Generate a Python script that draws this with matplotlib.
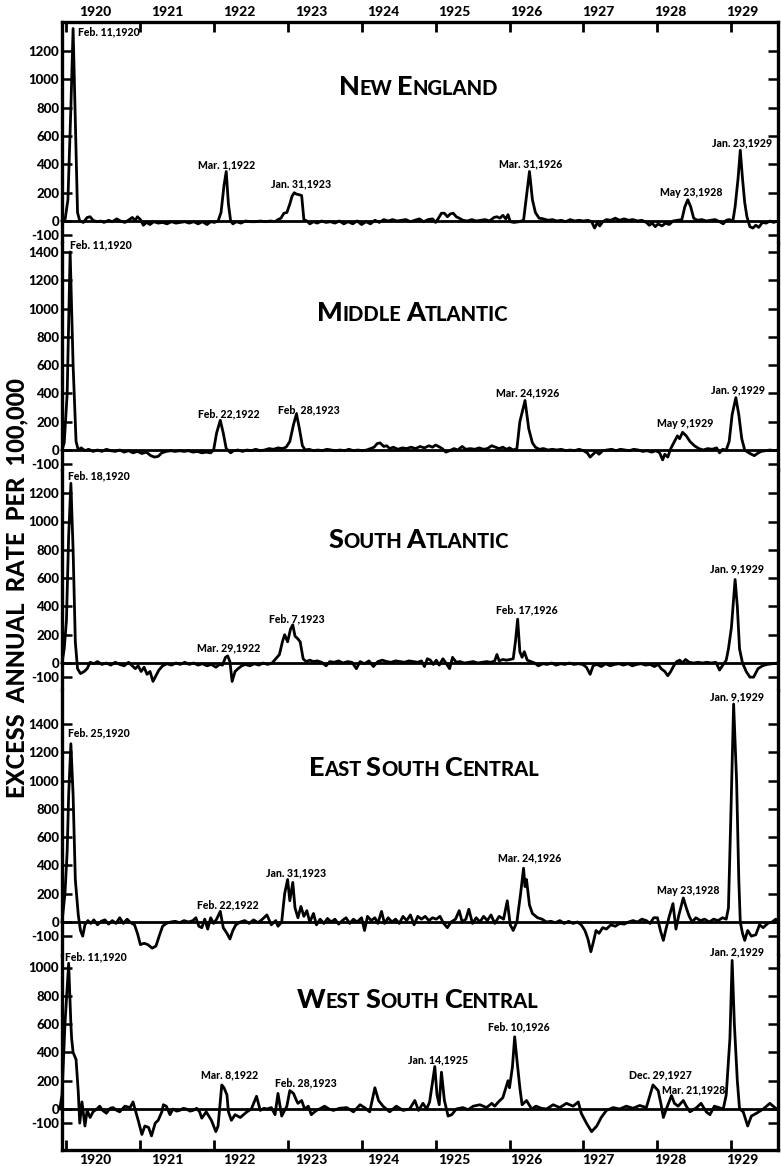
import matplotlib
matplotlib.use('Agg')
import matplotlib.pyplot as plt
import numpy as np
from matplotlib.offsetbox import TextArea, HPacker, AnnotationBbox

FONT = ['Lato', 'DejaVu Sans']
HEAVY = 'black'
plt.rcParams['font.family'] = FONT

# excess annual death rate per 100,000 as (year, value)
new_england = [
    (1919.95, 0), (1919.99, 5), (1920.03, 150), (1920.07, 800), (1920.10, 1360), (1920.13, 700),
    (1920.16, 60), (1920.19, 0), (1920.24, -10), (1920.29, 25), (1920.33, 30), (1920.37, 5),
    (1920.42, -5), (1920.47, 0), (1920.52, -10), (1920.58, 5), (1920.63, -5), (1920.69, 15),
    (1920.74, 0), (1920.80, -10), (1920.86, 10), (1920.90, 25), (1920.94, 5), (1920.97, 30),
    (1921.01, 10), (1921.05, -30), (1921.09, -10), (1921.14, -25), (1921.19, -5), (1921.25, -15),
    (1921.31, -10), (1921.37, -20), (1921.43, -5), (1921.49, -15), (1921.55, -10), (1921.61, -5),
    (1921.67, -15), (1921.73, -5), (1921.79, -20), (1921.85, -5), (1921.91, -25), (1921.96, -5),
    (1922.01, -10), (1922.06, 0), (1922.10, 60), (1922.14, 250), (1922.17, 350), (1922.20, 120),
    (1922.23, 0), (1922.26, -20), (1922.31, -5), (1922.37, -15), (1922.43, 0), (1922.50, -5),
    (1922.57, -5), (1922.63, 0), (1922.70, -5), (1922.77, 0), (1922.83, -5), (1922.87, 10),
    (1922.91, 20), (1922.95, 55), (1922.99, 60), (1923.03, 120), (1923.06, 175), (1923.09, 200),
    (1923.12, 190), (1923.16, 185), (1923.19, 180), (1923.22, 10), (1923.26, 0), (1923.30, -20),
    (1923.35, -5), (1923.40, -15), (1923.46, 0), (1923.52, -10), (1923.58, -5), (1923.64, -15),
    (1923.70, 0), (1923.76, -20), (1923.82, -5), (1923.88, -20), (1923.94, 0), (1924.00, -25),
    (1924.06, -5), (1924.12, -20), (1924.18, 5), (1924.24, -10), (1924.30, 10), (1924.36, 0),
    (1924.42, 10), (1924.48, 0), (1924.54, 5), (1924.60, 10), (1924.66, -5), (1924.72, 5),
    (1924.78, 15), (1924.84, -5), (1924.90, 10), (1924.96, 15), (1925.00, -10), (1925.04, 20),
    (1925.08, 55), (1925.12, 55), (1925.16, 30), (1925.20, 50), (1925.24, 55), (1925.28, 30),
    (1925.32, 20), (1925.37, 5), (1925.43, 0), (1925.49, 10), (1925.55, 0), (1925.61, 5),
    (1925.67, 10), (1925.73, 0), (1925.79, 25), (1925.83, 30), (1925.87, 20), (1925.91, 40),
    (1925.95, 15), (1925.98, 45), (1926.01, -5), (1926.06, -10), (1926.13, -5), (1926.19, 5),
    (1926.23, 180), (1926.27, 350), (1926.31, 150), (1926.35, 60), (1926.40, 20), (1926.46, 15),
    (1926.52, 5), (1926.58, 10), (1926.64, 0), (1926.70, 5), (1926.76, -5), (1926.82, 10),
    (1926.88, 0), (1926.94, 5), (1927.00, 0), (1927.06, 5), (1927.11, -5), (1927.15, -50),
    (1927.19, -10), (1927.22, -35), (1927.26, -5), (1927.31, 10), (1927.37, 5), (1927.43, 20),
    (1927.49, 5), (1927.55, 15), (1927.61, 5), (1927.67, 10), (1927.73, 0), (1927.79, 5),
    (1927.85, -10), (1927.89, -30), (1927.93, -15), (1927.97, -40), (1928.01, -20), (1928.06, -35),
    (1928.11, -15), (1928.16, -25), (1928.21, 0), (1928.27, 5), (1928.33, 10), (1928.37, 100),
    (1928.41, 150), (1928.45, 100), (1928.49, 20), (1928.54, 5), (1928.60, 10), (1928.66, 0),
    (1928.72, 5), (1928.78, 10), (1928.84, -5), (1928.89, -20), (1928.93, 5), (1928.97, 10),
    (1929.02, 0), (1929.05, 100), (1929.09, 300), (1929.12, 500), (1929.15, 300), (1929.18, 130),
    (1929.21, 30), (1929.25, -40), (1929.29, -50), (1929.33, -30), (1929.37, -45), (1929.42, -10),
    (1929.47, -15), (1929.52, 0), (1929.57, -10), (1929.63, 0),
]

middle_atlantic = [
    (1919.95, 0), (1919.98, 50), (1920.02, 400), (1920.06, 1400), (1920.10, 600), (1920.14, 60),
    (1920.17, 0), (1920.21, 15), (1920.26, -5), (1920.31, 5), (1920.37, -10), (1920.43, 0),
    (1920.49, -10), (1920.55, 5), (1920.61, -5), (1920.67, -10), (1920.73, 0), (1920.79, -15),
    (1920.85, -5), (1920.91, -20), (1920.97, -10), (1921.03, -25), (1921.09, -15), (1921.15, -40),
    (1921.20, -50), (1921.25, -45), (1921.30, -20), (1921.36, -10), (1921.42, -5), (1921.48, -10),
    (1921.54, -5), (1921.60, -10), (1921.66, -5), (1921.72, -15), (1921.78, -10), (1921.84, -20),
    (1921.90, -15), (1921.96, -20), (1922.00, 0), (1922.04, 120), (1922.09, 210), (1922.13, 120),
    (1922.17, 10), (1922.20, -5), (1922.23, -20), (1922.27, -5), (1922.33, 0), (1922.39, -10),
    (1922.45, 0), (1922.51, -5), (1922.57, 5), (1922.63, -5), (1922.69, 0), (1922.75, 10),
    (1922.81, 5), (1922.87, 15), (1922.93, 10), (1922.98, 20), (1923.03, 60), (1923.08, 180),
    (1923.12, 255), (1923.16, 150), (1923.20, 30), (1923.24, 0), (1923.29, 5), (1923.35, -5),
    (1923.41, 0), (1923.47, -5), (1923.53, 5), (1923.59, 0), (1923.65, -5), (1923.71, 0),
    (1923.77, -5), (1923.83, 5), (1923.89, -5), (1923.95, 0), (1924.01, -5), (1924.07, 0),
    (1924.12, 10), (1924.17, 20), (1924.21, 45), (1924.25, 50), (1924.30, 25), (1924.34, 30),
    (1924.38, 10), (1924.43, 20), (1924.49, 5), (1924.55, 15), (1924.61, 10), (1924.67, 20),
    (1924.73, 10), (1924.79, 25), (1924.85, 15), (1924.91, 30), (1924.96, 20), (1925.00, 35),
    (1925.04, 25), (1925.09, 10), (1925.14, -15), (1925.19, -5), (1925.25, 10), (1925.30, 0),
    (1925.36, 25), (1925.41, 5), (1925.47, 10), (1925.53, 5), (1925.59, 15), (1925.65, 5),
    (1925.70, 10), (1925.76, 30), (1925.81, 20), (1925.86, 10), (1925.91, 20), (1925.96, 5),
    (1926.00, 15), (1926.05, 0), (1926.10, 10), (1926.14, 200), (1926.21, 350), (1926.26, 150),
    (1926.31, 50), (1926.35, 20), (1926.40, 5), (1926.46, 10), (1926.52, 0), (1926.58, 5),
    (1926.64, 0), (1926.70, 5), (1926.76, -5), (1926.82, 0), (1926.88, -5), (1926.94, 5),
    (1927.00, -5), (1927.05, -20), (1927.09, -50), (1927.13, -30), (1927.17, -10), (1927.21, -30),
    (1927.26, -5), (1927.32, 0), (1927.38, 5), (1927.44, -5), (1927.50, 5), (1927.56, 0),
    (1927.62, -5), (1927.68, 5), (1927.74, 0), (1927.80, -10), (1927.86, -5), (1927.92, -15),
    (1927.98, -5), (1928.03, -20), (1928.07, -70), (1928.10, -30), (1928.14, -50), (1928.18, 10),
    (1928.23, 60), (1928.27, 100), (1928.30, 80), (1928.34, 125), (1928.39, 100), (1928.44, 60),
    (1928.50, 30), (1928.56, 10), (1928.62, 0), (1928.68, 10), (1928.74, 5), (1928.80, 15),
    (1928.84, -20), (1928.88, 5), (1928.93, 0), (1928.97, 60), (1929.01, 250), (1929.06, 370),
    (1929.10, 250), (1929.14, 80), (1929.18, 0), (1929.22, -15), (1929.27, -30), (1929.31, -40),
    (1929.35, -25), (1929.40, -10), (1929.46, -5), (1929.52, 0), (1929.58, -5), (1929.63, 0),
]

south_atlantic = [
    (1919.95, 0), (1919.98, 100), (1920.01, 300), (1920.04, 900), (1920.07, 1270), (1920.10, 800),
    (1920.13, 150), (1920.16, -40), (1920.20, -75), (1920.25, -60), (1920.29, -40), (1920.33, 5),
    (1920.38, -5), (1920.43, 10), (1920.49, -10), (1920.55, 0), (1920.61, -15), (1920.67, 5),
    (1920.73, -10), (1920.79, -20), (1920.85, 5), (1920.90, -20), (1920.94, -40), (1920.98, -20),
    (1921.02, -60), (1921.06, -30), (1921.10, -80), (1921.14, -60), (1921.18, -130), (1921.22, -90),
    (1921.26, -50), (1921.31, -20), (1921.37, -5), (1921.43, -15), (1921.49, 0), (1921.55, -10),
    (1921.61, 5), (1921.67, -10), (1921.73, 0), (1921.79, -15), (1921.85, -5), (1921.91, -20),
    (1921.97, -10), (1922.03, -30), (1922.08, -10), (1922.12, -15), (1922.16, 40), (1922.19, 50),
    (1922.22, 10), (1922.25, -130), (1922.29, -60), (1922.33, -40), (1922.38, -20), (1922.43, -10),
    (1922.49, -20), (1922.55, -5), (1922.61, -15), (1922.67, 0), (1922.73, -10), (1922.79, 0),
    (1922.84, 30), (1922.89, 60), (1922.93, 150), (1922.96, 200), (1923.00, 150), (1923.04, 240),
    (1923.07, 270), (1923.10, 190), (1923.14, 170), (1923.17, 150), (1923.21, 30), (1923.25, 10),
    (1923.30, 20), (1923.35, 10), (1923.40, 15), (1923.46, 5), (1923.52, -20), (1923.57, 10),
    (1923.63, 5), (1923.69, 15), (1923.75, 0), (1923.81, 10), (1923.87, 5), (1923.93, -40),
    (1923.98, 10), (1924.04, -5), (1924.10, 15), (1924.16, -25), (1924.22, 10), (1924.28, 20),
    (1924.34, 10), (1924.40, 5), (1924.46, 15), (1924.52, 10), (1924.58, 5), (1924.64, 15),
    (1924.70, 10), (1924.76, 5), (1924.81, 15), (1924.85, -25), (1924.89, 30), (1924.93, 20),
    (1924.97, -10), (1925.01, 20), (1925.05, -15), (1925.10, 30), (1925.14, 0), (1925.19, -40),
    (1925.23, 40), (1925.28, 5), (1925.33, 10), (1925.39, 0), (1925.45, 5), (1925.51, 10),
    (1925.57, 0), (1925.63, 5), (1925.69, 10), (1925.75, 5), (1925.80, 15), (1925.83, 60),
    (1925.86, 15), (1925.91, 25), (1925.96, 20), (1926.01, 25), (1926.05, 30), (1926.08, 150),
    (1926.11, 310), (1926.14, 80), (1926.17, 40), (1926.20, 80), (1926.24, 20), (1926.29, 10),
    (1926.34, 0), (1926.39, -20), (1926.45, -5), (1926.51, -10), (1926.57, 0), (1926.63, -15),
    (1926.69, -5), (1926.75, -10), (1926.81, 0), (1926.87, -10), (1926.93, -5), (1926.99, -10),
    (1927.04, -30), (1927.09, -80), (1927.13, -20), (1927.18, -10), (1927.24, -25), (1927.30, -5),
    (1927.36, -20), (1927.42, -10), (1927.48, -5), (1927.54, -15), (1927.60, -5), (1927.66, -20),
    (1927.72, -10), (1927.78, -5), (1927.84, -15), (1927.90, -10), (1927.96, -25), (1928.01, -10),
    (1928.05, -40), (1928.10, -60), (1928.14, -90), (1928.18, -60), (1928.22, -20), (1928.26, 10),
    (1928.30, 20), (1928.34, 0), (1928.38, 25), (1928.43, 5), (1928.49, 0), (1928.55, 5),
    (1928.61, 0), (1928.67, 5), (1928.73, 0), (1928.79, 5), (1928.84, -50), (1928.89, -10),
    (1928.93, 20), (1928.96, 100), (1929.00, 250), (1929.05, 590), (1929.08, 400), (1929.11, 100),
    (1929.15, 0), (1929.20, -60), (1929.25, -100), (1929.30, -100), (1929.36, -40), (1929.42, -20),
    (1929.48, -10), (1929.55, -5), (1929.63, 0),
]

east_south_central = [
    (1919.95, 0), (1919.99, 200), (1920.02, 500), (1920.04, 900), (1920.07, 1260), (1920.10, 900),
    (1920.13, 300), (1920.17, 50), (1920.20, -60), (1920.23, -100), (1920.26, -20), (1920.30, 10),
    (1920.34, -10), (1920.38, 15), (1920.43, -20), (1920.48, 5), (1920.53, 15), (1920.58, -15),
    (1920.63, 10), (1920.68, -10), (1920.73, 30), (1920.78, -10), (1920.83, 20), (1920.88, -5),
    (1920.93, -20), (1920.97, -80), (1921.01, -160), (1921.06, -150), (1921.11, -160), (1921.17, -185),
    (1921.22, -170), (1921.27, -90), (1921.31, -30), (1921.36, -10), (1921.42, 0), (1921.48, 5),
    (1921.54, -5), (1921.60, 10), (1921.66, 0), (1921.72, 10), (1921.76, 30), (1921.80, -30),
    (1921.84, -40), (1921.88, 20), (1921.92, -50), (1921.96, 30), (1922.00, -10), (1922.04, 20),
    (1922.09, 75), (1922.13, -40), (1922.18, -80), (1922.22, -120), (1922.26, -60), (1922.30, -20),
    (1922.36, 0), (1922.42, 10), (1922.48, -10), (1922.54, 15), (1922.60, -5), (1922.66, 20),
    (1922.72, 50), (1922.78, -20), (1922.84, 10), (1922.87, -30), (1922.92, 0), (1922.96, 200),
    (1923.00, 300), (1923.03, 150), (1923.07, 280), (1923.10, 100), (1923.14, 30), (1923.18, 110),
    (1923.22, 40), (1923.26, 80), (1923.30, 0), (1923.35, 60), (1923.39, -20), (1923.44, 20),
    (1923.49, -10), (1923.54, 25), (1923.59, 0), (1923.64, 20), (1923.69, -15), (1923.74, 10),
    (1923.79, 30), (1923.84, -10), (1923.89, 20), (1923.94, 0), (1924.00, 30), (1924.04, -60),
    (1924.08, 40), (1924.13, 10), (1924.18, 30), (1924.22, -10), (1924.27, 75), (1924.31, -10),
    (1924.36, 30), (1924.41, 0), (1924.46, 20), (1924.51, -10), (1924.56, 40), (1924.61, 10),
    (1924.66, 50), (1924.71, -20), (1924.76, 40), (1924.81, 20), (1924.86, 40), (1924.91, 10),
    (1924.96, 30), (1925.01, 20), (1925.06, 40), (1925.11, -10), (1925.16, -40), (1925.21, 0),
    (1925.27, 20), (1925.32, 80), (1925.36, 0), (1925.41, 20), (1925.45, 90), (1925.50, -10),
    (1925.55, 30), (1925.60, 0), (1925.65, 40), (1925.70, 10), (1925.75, 50), (1925.80, -10),
    (1925.86, 40), (1925.92, 20), (1925.97, 150), (1926.01, -20), (1926.05, -60), (1926.10, 0),
    (1926.15, 200), (1926.19, 380), (1926.21, 250), (1926.23, 300), (1926.27, 120), (1926.31, 60),
    (1926.38, 30), (1926.44, 20), (1926.50, 0), (1926.56, 5), (1926.62, -5), (1926.68, 10),
    (1926.74, -10), (1926.80, 5), (1926.86, -10), (1926.92, 0), (1926.97, -20), (1927.02, -60),
    (1927.06, -120), (1927.10, -210), (1927.13, -150), (1927.17, -60), (1927.21, -80), (1927.26, -40),
    (1927.31, -50), (1927.37, -20), (1927.43, -30), (1927.49, -10), (1927.55, -15), (1927.61, 0),
    (1927.67, 10), (1927.73, 0), (1927.79, 20), (1927.85, 10), (1927.90, -10), (1927.95, 30),
    (1928.00, 30), (1928.04, -60), (1928.08, -130), (1928.12, -40), (1928.16, 40), (1928.21, 130),
    (1928.25, -50), (1928.29, 50), (1928.35, 170), (1928.39, 100), (1928.43, 40), (1928.47, 0),
    (1928.52, 30), (1928.58, 10), (1928.64, 20), (1928.70, 0), (1928.76, 20), (1928.82, 10),
    (1928.88, 30), (1928.93, 20), (1928.96, 100), (1928.99, 700), (1929.03, 1540), (1929.07, 1000),
    (1929.10, 300), (1929.12, 0), (1929.15, -80), (1929.18, -130), (1929.22, -60), (1929.27, -100),
    (1929.33, -90), (1929.38, -20), (1929.43, -40), (1929.49, -10), (1929.55, 0), (1929.60, 20),
    (1929.63, 10),
]

west_south_central = [
    (1919.92, 0), (1919.95, 100), (1919.99, 600), (1920.04, 1030), (1920.07, 600), (1920.08, 500),
    (1920.10, 400), (1920.14, 350), (1920.17, 120), (1920.19, -100), (1920.22, 50), (1920.26, -120),
    (1920.29, -10), (1920.33, -60), (1920.37, -20), (1920.42, 0), (1920.46, 20), (1920.50, -10),
    (1920.55, -30), (1920.60, 5), (1920.64, 10), (1920.69, -10), (1920.73, -20), (1920.80, 20),
    (1920.87, 10), (1920.91, 50), (1920.98, -80), (1921.03, -180), (1921.07, -120), (1921.12, -130),
    (1921.16, -190), (1921.21, -100), (1921.25, -80), (1921.30, -20), (1921.32, 30), (1921.36, 20),
    (1921.41, -40), (1921.45, 0), (1921.50, -15), (1921.54, -10), (1921.59, 5), (1921.63, 0),
    (1921.68, -15), (1921.72, -10), (1921.77, 5), (1921.81, -20), (1921.84, -65), (1921.90, -20),
    (1921.97, -80), (1922.03, -160), (1922.06, -120), (1922.11, 170), (1922.14, 150), (1922.18, 100),
    (1922.20, -20), (1922.24, -80), (1922.29, -40), (1922.36, -60), (1922.45, -20), (1922.51, 0),
    (1922.58, 90), (1922.63, -10), (1922.68, 5), (1922.72, 0), (1922.78, 10), (1922.83, -40),
    (1922.87, 110), (1922.92, -50), (1922.99, 20), (1923.03, 130), (1923.08, 110), (1923.12, 60),
    (1923.14, 40), (1923.19, 60), (1923.23, 0), (1923.28, 20), (1923.32, -40), (1923.39, -10),
    (1923.45, 5), (1923.50, 20), (1923.56, 0), (1923.62, -10), (1923.70, 5), (1923.80, 10),
    (1923.89, -20), (1923.98, 30), (1924.04, 10), (1924.11, -20), (1924.18, 150), (1924.23, 60),
    (1924.29, 20), (1924.38, -20), (1924.47, 20), (1924.56, -10), (1924.65, 0), (1924.72, 60),
    (1924.77, -10), (1924.83, 40), (1924.88, 0), (1924.92, 50), (1924.99, 300), (1925.02, 100),
    (1925.05, 30), (1925.08, 260), (1925.12, 60), (1925.17, -50), (1925.22, -40), (1925.28, 0),
    (1925.37, 10), (1925.44, -5), (1925.51, 20), (1925.60, 30), (1925.69, 10), (1925.76, 40),
    (1925.80, 20), (1925.85, 50), (1925.91, 80), (1925.98, 200), (1926.00, 150), (1926.04, 300),
    (1926.07, 510), (1926.10, 350), (1926.14, 150), (1926.17, 30), (1926.23, 60), (1926.30, 0),
    (1926.36, 20), (1926.43, 5), (1926.50, 0), (1926.59, 30), (1926.68, 10), (1926.77, 40),
    (1926.86, 20), (1926.93, 50), (1926.97, -30), (1927.04, -100), (1927.11, -160), (1927.18, -120),
    (1927.24, -60), (1927.31, -10), (1927.40, 10), (1927.49, 0), (1927.58, 20), (1927.67, 5),
    (1927.76, 25), (1927.85, 10), (1927.94, 170), (1928.01, 130), (1928.05, 30), (1928.08, -60),
    (1928.12, 0), (1928.19, 95), (1928.23, 40), (1928.28, 20), (1928.35, 60), (1928.39, 20),
    (1928.44, -20), (1928.53, 10), (1928.59, 40), (1928.66, -20), (1928.71, -40), (1928.77, 20),
    (1928.89, 0), (1928.93, 100), (1928.98, 500), (1929.01, 1050), (1929.04, 600), (1929.08, 200),
    (1929.11, 0), (1929.16, -20), (1929.22, -120), (1929.27, -50), (1929.34, -30), (1929.43, 0),
    (1929.52, 40), (1929.61, 0),
]

regions = ['New England', 'Middle Atlantic', 'South Atlantic',
           'East South Central', 'West South Central']
series = [new_england, middle_atlantic, south_atlantic,
          east_south_central, west_south_central]

# peak dates as printed on the chart: (label, year, value) of the label's anchor
peaks = [
    [('Feb. 11,1920', 1920.17, 1336), ('Mar. 1,1922', 1922.17, 396), ('Jan. 31,1923', 1923.18, 262),
     ('Mar. 31,1926', 1926.29, 403), ('May 23,1928', 1928.46, 198), ('Jan. 23,1929', 1929.15, 552)],
    [('Feb. 11,1920', 1920.06, 1449), ('Feb. 22,1922', 1922.21, 255), ('Feb. 28,1923', 1923.29, 283),
     ('Mar. 24,1926', 1926.25, 403), ('May 9,1929', 1928.37, 184), ('Jan. 9,1929', 1929.09, 424)],
    [('Feb. 18,1920', 1920.03, 1322), ('Mar. 29,1922', 1922.21, 106), ('Feb. 7,1923', 1923.13, 311),
     ('Feb. 17,1926', 1926.23, 375), ('Jan. 9,1929', 1929.07, 665)],
    [('Feb. 25,1920', 1920.03, 1336), ('Feb. 22,1922', 1922.19, 120), ('Jan. 31,1923', 1923.11, 346),
     ('Mar. 24,1926', 1926.27, 452), ('May 23,1928', 1928.41, 226), ('Jan. 9,1929', 1929.07, 1591)],
    [('Feb. 11,1920', 1919.99, 1075), ('Mar. 8,1922', 1922.21, 240), ('Feb. 28,1923', 1923.25, 184),
     ('Jan. 14,1925', 1925.03, 346), ('Feb. 10,1926', 1926.13, 580), ('Dec. 29,1927', 1928.04, 240),
     ('Mar. 21,1928', 1928.49, 134), ('Jan. 2,1929', 1929.07, 1110)],
]

years = list(range(1920, 1930))
year_labels = [str(y) for y in years]

# ---- layout (pixels of the 781 x 1166 page) ----
W, H = 781, 1166
left_px, right_px = 62, 778
bounds_px = [(22, 243), (243, 470), (470, 690), (690, 955), (955, 1150)]
zero_px = [221, 450, 663, 922, 1109]
upp = 200 / 28.3            # rate units per pixel, same for all panels
tick_top = [1200, 1400, 1200, 1400, 1000]
title_pos = [(1924.77, 947), (1924.69, 969), (1924.77, 870), (1924.84, 1089), (1924.76, 771)]
xlim = (1919.95, 1929.63)

fig = plt.figure(figsize=(W / 100, H / 100), dpi=100)


def small_caps(ax, text, xy, big=19.5, small=14.5):
    props = dict(weight=HEAVY, family=FONT)
    boxes = []
    for i, word in enumerate(text.upper().split()):
        if i:
            boxes.append(TextArea(' ', textprops=dict(size=small, **props)))
        boxes.append(TextArea(word[0], textprops=dict(size=big, **props)))
        boxes.append(TextArea(word[1:], textprops=dict(size=small, **props)))
    pack = HPacker(children=boxes, align='baseline', pad=0, sep=0)
    ab = AnnotationBbox(pack, xy, xycoords='data', frameon=False,
                        box_alignment=(0.5, 0.5), annotation_clip=False)
    ax.add_artist(ab)


for i, (name, data) in enumerate(zip(regions, series)):
    top, bot = bounds_px[i]
    ax = fig.add_axes([left_px / W, 1 - bot / H, (right_px - left_px) / W, (bot - top) / H])
    ax.set_xlim(*xlim)
    ax.set_ylim(-(bot - zero_px[i]) * upp, (zero_px[i] - top) * upp)

    t = np.array([p[0] for p in data])
    v = np.array([p[1] for p in data])
    ax.plot(t, v, color='black', lw=2.0, solid_joinstyle='round', clip_on=False)
    ax.axhline(0, color='black', lw=2.0)

    yt = [-100] + list(range(0, tick_top[i] + 1, 200))
    ax.set_yticks(yt)
    ax.set_yticklabels([str(y) for y in yt])
    ax.tick_params(axis='y', which='both', direction='in', length=7, width=1.8,
                   left=True, right=True, labelleft=True, labelright=False,
                   labelsize=9.5, pad=2)
    for lab in ax.get_yticklabels():
        lab.set_fontweight(HEAVY)

    for side in ['left', 'right']:
        ax.spines[side].set_linewidth(2.4)
    ax.spines['top'].set_visible(i == 0)
    ax.spines['bottom'].set_visible(i == len(regions) - 1)
    ax.spines['top'].set_linewidth(2.4)
    ax.spines['bottom'].set_linewidth(2.4)

    if i == 0 or i == len(regions) - 1:
        ax.set_xticks(years)
        ax.set_xticklabels([])
        # printed year labels drift slightly from the year-start ticks
        ax.set_xticks([y + 0.40 - 0.028 * k for k, y in enumerate(years)], minor=True)
        ax.set_xticklabels(year_labels, minor=True, fontsize=10, fontweight=HEAVY)
        on_top = i == 0
        ax.tick_params(axis='x', which='major', direction='in', length=7, width=2,
                       top=on_top, bottom=not on_top, labeltop=False, labelbottom=False)
        ax.tick_params(axis='x', which='minor', length=0, pad=3,
                       top=on_top, bottom=not on_top, labeltop=on_top, labelbottom=not on_top)
    else:
        ax.set_xticks([])
        ax.tick_params(axis='x', which='both', bottom=False, top=False)

    small_caps(ax, name, title_pos[i])

    for k, (lab, x, y) in enumerate(peaks[i]):
        ax.text(x, y, lab, ha='left' if k == 0 else 'center', va='center',
                fontsize=7.6, fontweight=HEAVY, clip_on=False)

fig.text(17 / W, 1 - 588 / H, 'EXCESS  ANNUAL  RATE  PER  100,000', rotation=90,
         ha='center', va='center', fontsize=17, fontweight=HEAVY)

fig.savefig('out.png', dpi=100)
